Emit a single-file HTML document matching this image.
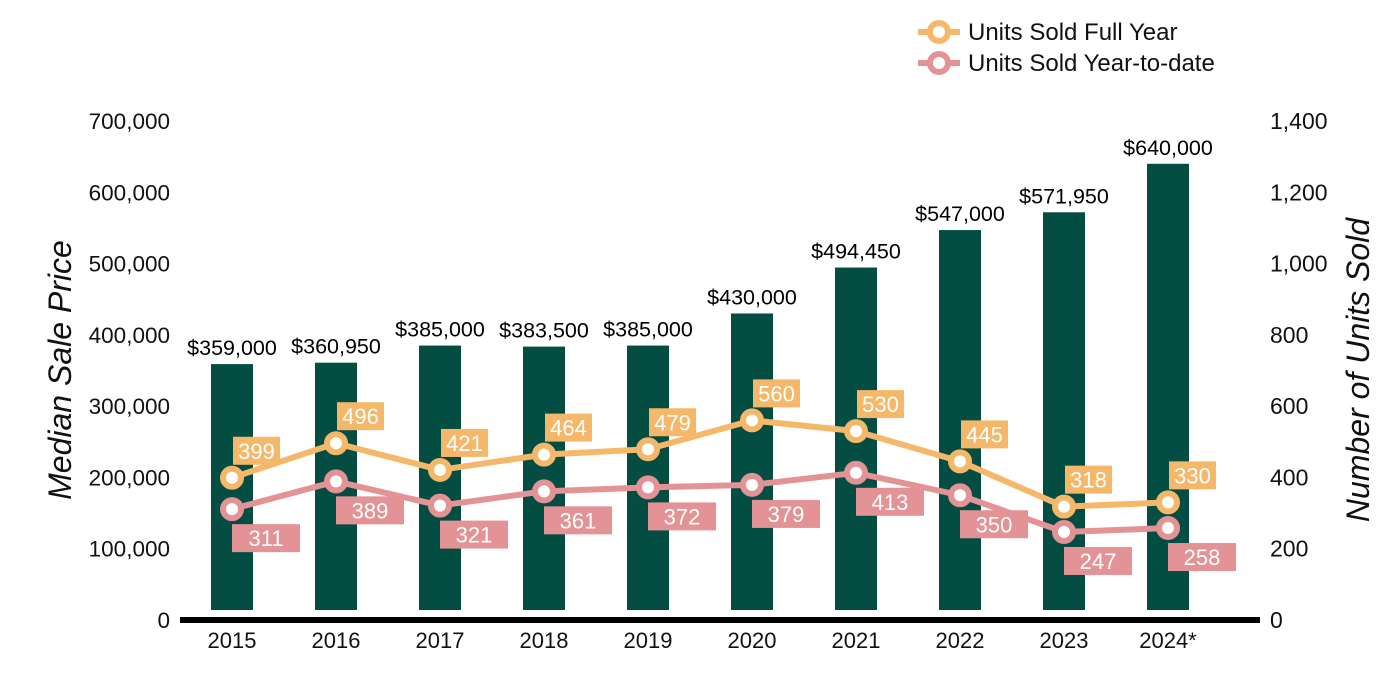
<!DOCTYPE html>
<html><head><meta charset="utf-8"><style>
body{margin:0;background:#fff;}
svg{display:block;font-family:"Liberation Sans",Arial,sans-serif;}
</style></head><body>
<svg id="chart" width="1400" height="700">
<g id="legend">
  <g>
    <line x1="918" y1="32" x2="960" y2="32" stroke="#f5b86a" stroke-width="6"/>
    <circle cx="939" cy="32" r="9" fill="#fff" stroke="#f5b86a" stroke-width="6"/>
    <text x="968" y="40" font-size="24" fill="#111">Units Sold Full Year</text>
  </g>
  <g>
    <line x1="918" y1="63" x2="960" y2="63" stroke="#e39395" stroke-width="6"/>
    <circle cx="939" cy="63" r="9" fill="#fff" stroke="#e39395" stroke-width="6"/>
    <text x="968" y="71" font-size="24" fill="#111">Units Sold Year-to-date</text>
  </g>
</g>
<text transform="translate(71,370) rotate(-90)" text-anchor="middle" font-size="32" font-style="italic" fill="#111">Median Sale Price</text>
<text transform="translate(1369,370) rotate(-90)" text-anchor="middle" font-size="32" font-style="italic" fill="#111">Number of Units Sold</text>
<g id="plot"></g>
</svg>
<script>
const years=["2015","2016","2017","2018","2019","2020","2021","2022","2023","2024*"];
const prices=[359000,360950,385000,383500,385000,430000,494450,547000,571950,640000];
const priceLabels=["$359,000","$360,950","$385,000","$383,500","$385,000","$430,000","$494,450","$547,000","$571,950","$640,000"];
const fullYear=[399,496,421,464,479,560,530,445,318,330];
const ytd=[311,389,321,361,372,379,413,350,247,258];
const leftTicks=[0,100000,200000,300000,400000,500000,600000,700000];
const rightTicks=[0,200,400,600,800,1000,1200,1400];

const NS="http://www.w3.org/2000/svg";
const g=document.getElementById('plot');
const y0=620,yTop=121;
const yL=v=>y0-(v/700000)*(y0-yTop);
const yR=v=>y0-(v/1400)*(y0-yTop);
const xC=i=>232+i*104;
function mk(t,a,txt){const e=document.createElementNS(NS,t);for(const k in a)e.setAttribute(k,a[k]);if(txt!==undefined)e.textContent=txt;g.appendChild(e);return e;}

leftTicks.forEach(v=>{
  const e=mk('text',{x:170,y:yL(v)+8,'text-anchor':'end','font-size':22.5,fill:'#111'},v.toLocaleString('en-US'));
  
  
});
rightTicks.forEach(v=>{
  const e=mk('text',{x:1270,y:yR(v)+8,'font-size':23,fill:'#111'},v.toLocaleString('en-US'));
  
  
});
prices.forEach((p,i)=>{
  const r=mk('rect',{x:xC(i)-21,y:yL(p),width:42,height:610-yL(p),fill:'#034d42'});
  
  
  const t=mk('text',{x:xC(i),y:yL(p)-9,'text-anchor':'middle','font-size':21.5,fill:'#000'},priceLabels[i]);
  
  
  const xl=mk('text',{x:xC(i),y:648,'text-anchor':'middle','font-size':22,fill:'#111'},years[i]);
  
  
});
const ax=mk('line',{x1:180,y1:620,x2:1260,y2:620,stroke:'#000','stroke-width':6});



function series(vals,color,name,above){
  const pts=vals.map((v,i)=>xC(i)+','+yR(v)).join(' ');
  const l=mk('polyline',{points:pts,fill:'none',stroke:color,'stroke-width':6,'stroke-linejoin':'round'});
  
  
  vals.forEach((v,i)=>{
    const cx=xC(i),cy=yR(v);
    const c=mk('circle',{cx:cx,cy:cy,r:9,fill:'#fff',stroke:color,'stroke-width':6});
    
    
    const w=above?47:68, bx=above?cx+1:cx, by=above?cy-41:cy+15;
    const b=mk('rect',{x:bx,y:by,width:w,height:28,fill:color});
    
    
    const t=mk('text',{x:bx+w/2,y:by+22,'text-anchor':'middle','font-size':22,fill:'#fff'},String(v));
    
    
  });
}
series(ytd,'#e39395','ytd',false);
series(fullYear,'#f5b86a','full-year',true);
</script>
</body></html>
